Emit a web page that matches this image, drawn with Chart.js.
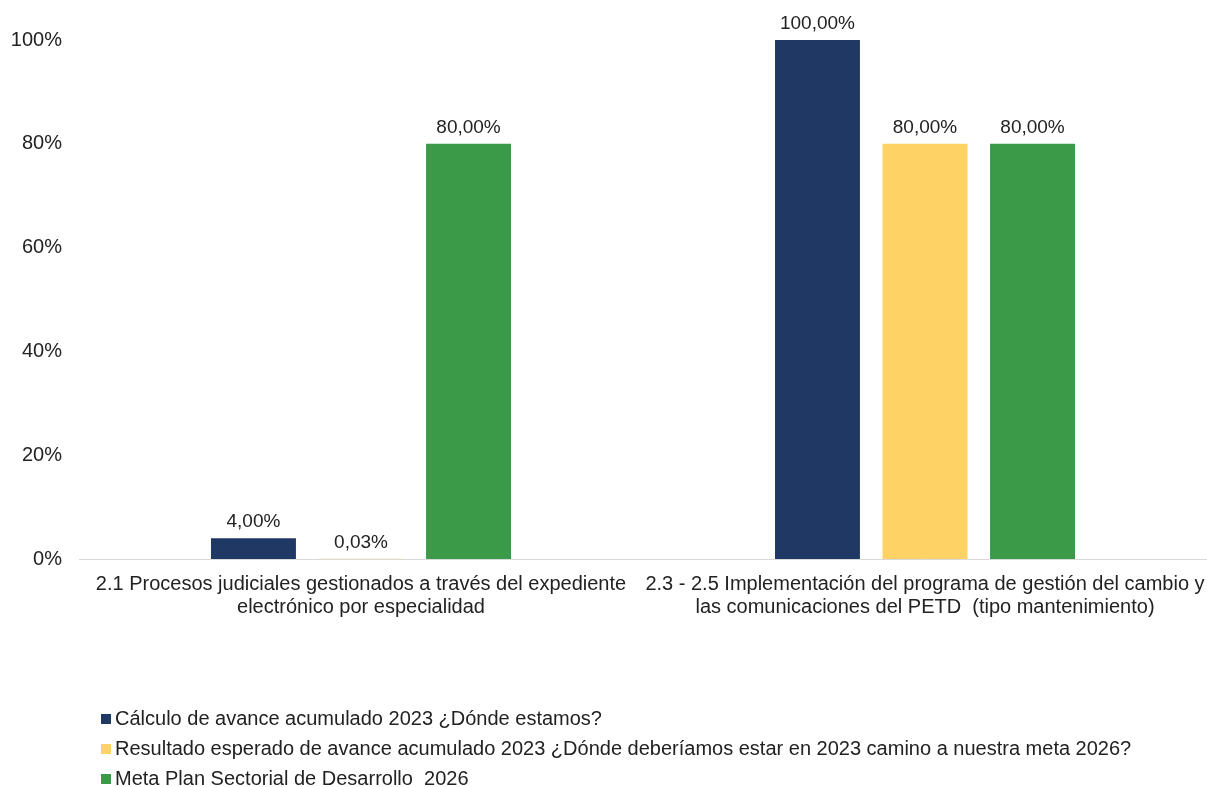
<!DOCTYPE html>
<html>
<head>
<meta charset="utf-8">
<script src="https://cdn.jsdelivr.net/npm/chart.js@4/dist/chart.umd.min.js"></script>
<style>
html,body{margin:0;padding:0;background:#fff;overflow:hidden;}
#c{display:block;}
</style>
</head>
<body>
<canvas id="c" width="1207" height="787"></canvas>
<script>
const categories = [
  ["2.1 Procesos judiciales gestionados a través del expediente", "electrónico por especialidad"],
  ["2.3 - 2.5 Implementación del programa de gestión del cambio y", "las comunicaciones del PETD  (tipo mantenimiento)"]
];
const seriesNames = [
  "Cálculo de avance acumulado 2023 ¿Dónde estamos?",
  "Resultado esperado de avance acumulado 2023 ¿Dónde deberíamos estar en 2023 camino a nuestra meta 2026?",
  "Meta Plan Sectorial de Desarrollo  2026"
];
const avance2023 = [4.00, 100.00];
const esperado2023 = [0.03, 80.00];
const meta2026 = [80.00, 80.00];
const yTicks = [0, 20, 40, 60, 80, 100];
const colors = ["#203864", "#FFD265", "#3A9A47"];

const FONT = "'Liberation Sans', Arial, sans-serif";
const TXT = "#222222";

const valueLabels = {
  id: 'valueLabels',
  afterDatasetsDraw(chart) {
    const ctx = chart.ctx;
    ctx.save();
    ctx.font = "19px " + FONT;
    ctx.fillStyle = TXT;
    ctx.textAlign = 'center';
    ctx.textBaseline = 'alphabetic';
    chart.data.datasets.forEach((ds, i) => {
      const meta = chart.getDatasetMeta(i);
      meta.data.forEach((bar, j) => {
        const v = ds.data[j];
        const txt = v.toFixed(2).replace('.', ',') + '%';
        ctx.fillText(txt, bar.x, bar.y - 11);
      });
    });
    ctx.restore();
  }
};

const customLegend = {
  id: 'customLegend',
  afterDraw(chart) {
    const ctx = chart.ctx;
    ctx.save();
    ctx.font = "20px " + FONT;
    ctx.textBaseline = 'middle';
    ctx.textAlign = 'left';
    const x0 = 101, y0 = 719, dy = 30;
    chart.data.datasets.forEach((ds, i) => {
      const y = y0 + i * dy;
      ctx.fillStyle = ds.backgroundColor;
      ctx.fillRect(x0, y - 5, 10, 10);
      ctx.fillStyle = TXT;
      ctx.fillText(ds.label, x0 + 14, y);
    });
    ctx.restore();
  }
};

new Chart(document.getElementById('c'), {
  type: 'bar',
  data: {
    labels: categories,
    datasets: [
      { label: seriesNames[0], data: avance2023, backgroundColor: colors[0] },
      { label: seriesNames[1], data: esperado2023, backgroundColor: colors[1] },
      { label: seriesNames[2], data: meta2026, backgroundColor: colors[2] }
    ]
  },
  options: {
    responsive: false,
    animation: false,
    devicePixelRatio: 1,
    layout: { padding: { top: 40, bottom: 154, left: 10, right: 0 } },
    datasets: { bar: { categoryPercentage: 0.572, barPercentage: 0.79 } },
    plugins: { legend: { display: false }, tooltip: { enabled: false } },
    scales: {
      x: {
        afterFit(scale) { scale.paddingLeft = 0; scale.paddingRight = 0; },
        grid: { display: false, drawTicks: false },
        border: { display: true, color: '#D9D9D9', width: 1 },
        ticks: { font: { size: 20, family: FONT, lineHeight: 1.15 }, color: TXT, padding: 14, maxRotation: 0, autoSkip: false }
      },
      y: {
        min: 0, max: 100,
        afterFit(scale) { scale.width = 69; },
        afterBuildTicks(axis) { axis.ticks = yTicks.map(v => ({ value: v })); },
        grid: { display: false, drawTicks: false },
        border: { display: false },
        ticks: { font: { size: 20, family: FONT }, color: TXT, padding: 17, callback: v => v + '%' }
      }
    }
  },
  plugins: [valueLabels, customLegend]
});
</script>
</body>
</html>
